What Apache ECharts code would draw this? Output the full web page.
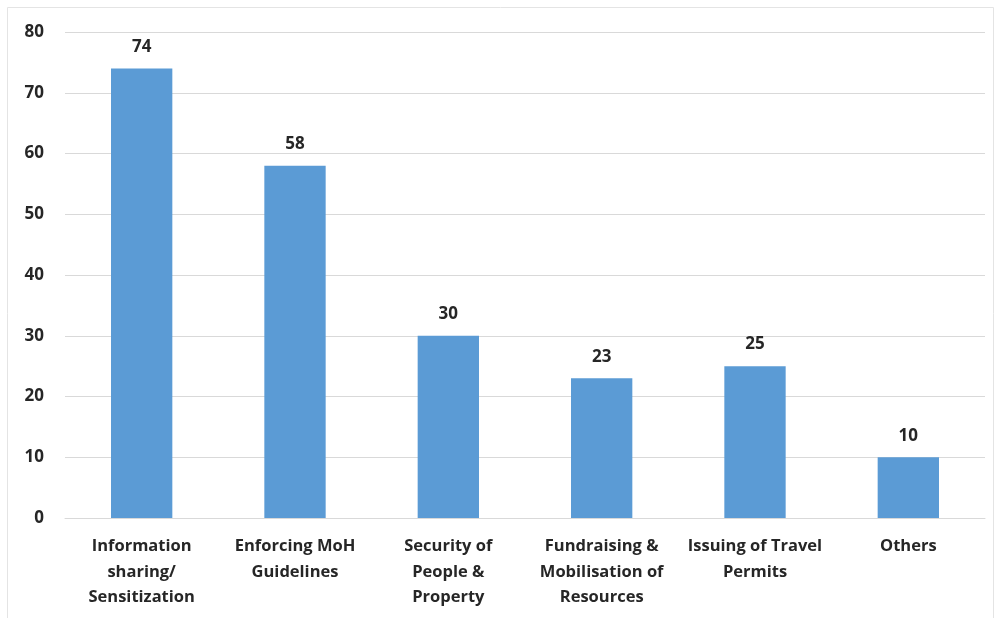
<!DOCTYPE html>
<html>
<head>
<meta charset="utf-8">
<script src="https://cdn.jsdelivr.net/npm/echarts@6/dist/echarts.min.js"></script>
<style>
html,body{margin:0;padding:0;background:#fff;}
#chart{width:1002px;height:618px;}
</style>
</head>
<body>
<div id="chart"></div>
<script>
const categories = [
  "Information\nsharing/\nSensitization",
  "Enforcing MoH\nGuidelines",
  "Security of\nPeople &\nProperty",
  "Fundraising &\nMobilisation of\nResources",
  "Issuing of Travel\nPermits",
  "Others"
];
const values = [74, 58, 30, 23, 25, 10];
const yTicks = [0, 10, 20, 30, 40, 50, 60, 70, 80];

const chart = echarts.init(document.getElementById('chart'));
const font = '"Open Sans", sans-serif';
chart.setOption({
  animation: false,
  backgroundColor: '#ffffff',
  graphic: [{
    type: 'rect',
    shape: {x: 7.5, y: 7.5, width: 986, height: 620},
    style: {fill: 'none', stroke: '#e4e4e4', lineWidth: 1},
    silent: true
  }],
  grid: {left: 65, right: 17, top: 32, bottom: 100},
  xAxis: {
    type: 'category',
    data: categories,
    axisLine: {show: true, lineStyle: {color: '#d9d9d9', width: 1}},
    axisTick: {show: false},
    axisLabel: {
      interval: 0,
      margin: 16,
      color: '#262626',
      fontFamily: font,
      fontWeight: 'bold',
      fontSize: 16.5,
      lineHeight: 25.5
    }
  },
  yAxis: {
    type: 'value',
    min: yTicks[0],
    max: yTicks[yTicks.length - 1],
    interval: 10,
    axisLine: {show: false},
    axisTick: {show: false},
    splitLine: {lineStyle: {color: '#d9d9d9', width: 1}},
    axisLabel: {
      margin: 21,
      color: '#262626',
      fontFamily: font,
      fontWeight: 'bold',
      fontSize: 17
    }
  },
  series: [{
    type: 'bar',
    data: values,
    barWidth: '40%',
    itemStyle: {color: '#5b9bd5'},
    label: {
      show: true,
      position: 'top',
      distance: 13,
      color: '#262626',
      fontFamily: font,
      fontWeight: 'bold',
      fontSize: 17
    }
  }]
});
</script>
</body>
</html>
